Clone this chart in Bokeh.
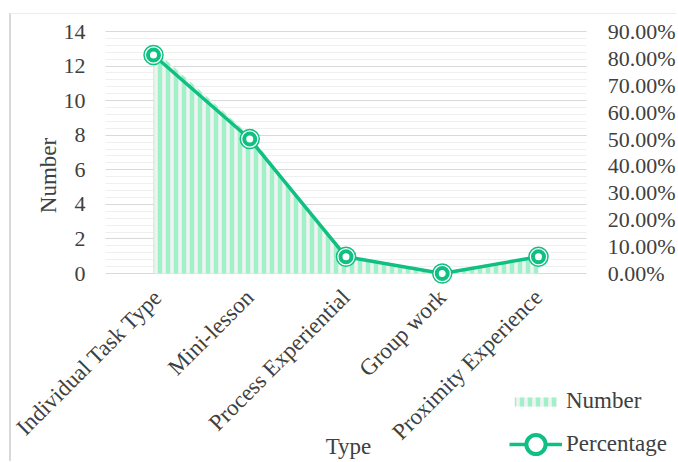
import math
from bokeh.plotting import figure
from bokeh.models import (Range1d, LinearAxis, SingleIntervalTicker, FixedTicker,
                          NumeralTickFormatter, Legend, LegendItem, Label)
from bokeh.embed import file_html
from bokeh.resources import INLINE

# Data
categories = ["Individual Task Type", "Mini-lesson", "Process Experiential",
              "Group work", "Proximity Experience"]
number = [13, 8, 1, 0, 1]
percentage = [0.8125, 0.5, 0.0625, 0.0, 0.0625]
pct_ticks = [0.0, 0.1, 0.2, 0.3, 0.4, 0.5, 0.6, 0.7, 0.8, 0.9]

positions = list(range(len(categories)))

GREEN = "#10bf82"
STRIPE = "#9ff2c8"
TEXT = "#404040"
FONT = "Liberation Serif"
FS_TICK = "22px"
FS = "23px"

# The plotting frame fills the whole canvas; the axes are pinned to the edges
# of the data area so that labels, titles and the legend all have room.
W, H = 667, 448
PLOT_TOP, PLOT_BOTTOM = 17, 259          # canvas rows of the top value and of zero
PLOT_LEFT, STEP = 142, 96.25             # canvas column of the first category, spacing
n_max, p_max = 14, 0.9
n_per_px = n_max / (PLOT_BOTTOM - PLOT_TOP)
p_per_px = p_max / (PLOT_BOTTOM - PLOT_TOP)

x_range = Range1d(-PLOT_LEFT / STEP, (W - PLOT_LEFT) / STEP)
y_range = Range1d(-(H - PLOT_BOTTOM) * n_per_px, n_max + PLOT_TOP * n_per_px)

p = figure(width=W, height=H, output_backend="svg", toolbar_location=None,
           x_range=x_range, y_range=y_range, min_border=0,
           background_fill_color="white", border_fill_color="white", outline_line_color=None)
p.margin = (13, 0, 0, 9)
p.styles = {"border-left": "2px solid #d9d9d9", "border-top": "1px solid #ececec"}

p.extra_y_ranges = {"pct": Range1d(-(H - PLOT_BOTTOM) * p_per_px, p_max + PLOT_TOP * p_per_px)}

x_lo, x_hi = positions[0] - 0.5, positions[-1] + 0.5

# Grid
left_ticker = SingleIntervalTicker(interval=2, num_minor_ticks=5)
p.xgrid.visible = False
p.ygrid.ticker = left_ticker
p.ygrid.bounds = (0, n_max)
p.ygrid.cross_bounds = (x_lo, x_hi)
p.ygrid.grid_line_color = "#d9d9d9"
p.ygrid.minor_grid_line_color = "#efefef"
p.ygrid.grid_line_width = 1.2
p.ygrid.minor_grid_line_width = 1.2

# Left axis
p.yaxis.ticker = left_ticker
p.yaxis.bounds = (0, n_max)
p.yaxis.fixed_location = x_lo
p.yaxis.axis_line_color = None
p.yaxis.major_tick_line_color = None
p.yaxis.minor_tick_line_color = None
p.yaxis.major_tick_out = 0
p.yaxis.minor_tick_out = 0
p.yaxis.major_label_text_font = FONT
p.yaxis.major_label_text_font_size = FS_TICK
p.yaxis.major_label_text_color = TEXT
p.yaxis.major_label_standoff = 20

# Right axis
raxis = LinearAxis(y_range_name="pct", ticker=FixedTicker(ticks=pct_ticks),
                   formatter=NumeralTickFormatter(format="0.00%"), bounds=(0, p_max),
                   fixed_location=x_hi)
raxis.axis_line_color = None
raxis.major_tick_line_color = None
raxis.minor_tick_line_color = None
raxis.major_tick_out = 0
raxis.minor_tick_out = 0
raxis.major_label_text_font = FONT
raxis.major_label_text_font_size = FS_TICK
raxis.major_label_text_color = TEXT
raxis.major_label_standoff = 21
p.add_layout(raxis, "right")

# Category axis on the zero line
p.xaxis.ticker = FixedTicker(ticks=positions)
p.xaxis.major_label_overrides = {i: c for i, c in zip(positions, categories)}
p.xaxis.fixed_location = 0
p.xaxis.axis_line_color = None
p.xaxis.major_tick_line_color = None
p.xaxis.minor_tick_line_color = None
p.xaxis.major_tick_out = 0
p.xaxis.minor_tick_out = 0
p.xaxis.major_label_orientation = math.pi / 4
p.xaxis.major_label_text_font = FONT
p.xaxis.major_label_text_font_size = FS
p.xaxis.major_label_text_color = TEXT
p.xaxis.major_label_standoff = 20

# Axis titles
p.add_layout(Label(x=37, y=287, x_units="screen", y_units="screen", text="Number",
                   angle=math.pi / 2, text_align="center", text_baseline="middle",
                   text_font=FONT, text_font_size=FS, text_color=TEXT))
p.add_layout(Label(x=337, y=16, x_units="screen", y_units="screen", text="Type",
                   text_align="center", text_baseline="middle",
                   text_font=FONT, text_font_size=FS, text_color=TEXT))

# Number: striped area
area = p.varea(x=positions, y1=0, y2=number, fill_color="#f2f2f2",
               hatch_pattern="|", hatch_color=STRIPE, hatch_scale=8, hatch_weight=4.5)

# Percentage: line with double-ring markers
line = p.line(x=positions, y=percentage, y_range_name="pct", line_color=GREEN, line_width=3.5)
outer = p.scatter(x=positions, y=percentage, y_range_name="pct", size=19,
                  fill_color="white", line_color=GREEN, line_width=1.5)
inner = p.scatter(x=positions, y=percentage, y_range_name="pct", size=11,
                  fill_color="white", line_color=GREEN, line_width=4)

legend_style = dict(orientation="vertical", background_fill_alpha=0, border_line_alpha=0,
                    padding=0, margin=0, glyph_width=53, label_standoff=4,
                    label_text_font=FONT, label_text_font_size=FS, label_text_color=TEXT)
legend_num = Legend(items=[LegendItem(label="Number", renderers=[area])],
                    location=(498, 48), glyph_height=11, label_height=20, **legend_style)
legend_pct = Legend(items=[LegendItem(label="Percentage", renderers=[line, inner])],
                    location=(498, -6), glyph_height=48, label_height=20, **legend_style)
p.add_layout(legend_num, "center")
p.add_layout(legend_pct, "center")

open("out.html", "w").write(file_html(p, INLINE))
